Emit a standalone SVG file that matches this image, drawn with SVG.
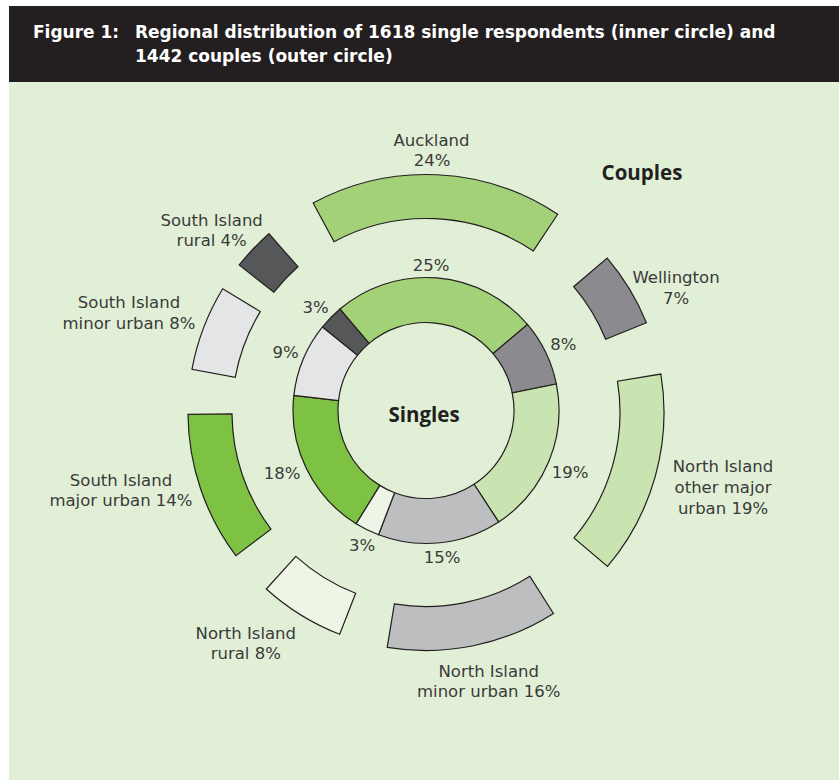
<svg xmlns="http://www.w3.org/2000/svg" width="839" height="780" viewBox="0 0 839 780">
<style>
.seg{stroke:#231F20;stroke-width:1.2;stroke-linejoin:miter}
.lbl{font-family:"DejaVu Sans","Open Sans",sans-serif;font-size:16.5px;fill:#3a3a3a;text-anchor:middle}
.big{font-family:"Open Sans","DejaVu Sans",sans-serif;font-size:20.5px;font-weight:bold;fill:#231F20;text-anchor:middle}
.ttl{font-family:"DejaVu Sans","Liberation Sans",sans-serif;font-size:17px;font-weight:bold;fill:#ffffff}
.c1{fill:#A2D178}.c2{fill:#8B8B8F}.c3{fill:#C9E4B0}.c4{fill:#BDBEC0}
.c5{fill:#EEF5E6}.c6{fill:#7DC242}.c7{fill:#E4E5E7}.c8{fill:#555759}
</style>
<rect x="0" y="0" width="839" height="780" fill="#ffffff"/>
<rect x="9" y="82" width="830" height="698" fill="#E1EFD6"/>
<g id="header">
<rect x="9" y="6" width="830" height="76" fill="#231F20"/>
<text class="ttl" x="33" y="38">Figure 1:</text>
<text class="ttl" x="135" y="38">Regional distribution of 1618 single respondents (inner circle) and</text>
<text class="ttl" x="135" y="62">1442 couples (outer circle)</text>
</g>
<g id="singles-ring">
<path id="s-auckland" class="seg c1" d="M339.98,309.06 A133,133 0 0 1 527.44,324.48 L493.12,353.58 A88,88 0 0 0 369.08,343.38 Z"/>
<path id="s-wellington" class="seg c2" d="M527.44,324.48 A133,133 0 0 1 556.33,383.98 L512.23,392.95 A88,88 0 0 0 493.12,353.58 Z"/>
<path id="s-niom" class="seg c3" d="M556.33,383.98 A133,133 0 0 1 498.63,521.91 L474.06,484.22 A88,88 0 0 0 512.23,392.95 Z"/>
<path id="s-nimu" class="seg c4" d="M498.63,521.91 A133,133 0 0 1 378.56,534.75 L394.61,492.71 A88,88 0 0 0 474.06,484.22 Z"/>
<path id="s-nir" class="seg c5" d="M378.56,534.75 A133,133 0 0 1 356.11,523.66 L379.76,485.37 A88,88 0 0 0 394.61,492.71 Z"/>
<path id="s-simu" class="seg c6" d="M356.11,523.66 A133,133 0 0 1 293.85,395.44 L338.56,400.54 A88,88 0 0 0 379.76,485.37 Z"/>
<path id="s-siminu" class="seg c7" d="M293.85,395.44 A133,133 0 0 1 322.50,326.98 L357.52,355.24 A88,88 0 0 0 338.56,400.54 Z"/>
<path id="s-sir" class="seg c8" d="M322.50,326.98 A133,133 0 0 1 339.98,309.06 L369.08,343.38 A88,88 0 0 0 357.52,355.24 Z"/>
</g>
<g id="couples-ring">
<path id="c-auckland" class="seg c1" d="M313.17,202.94 A238,238 0 0 1 557.71,214.26 L533.36,250.91 A194,194 0 0 0 334.03,241.68 Z"/>
<path id="c-wellington" class="seg c2" d="M607.17,258.15 A238,238 0 0 1 646.42,322.73 L605.67,339.32 A194,194 0 0 0 573.68,286.68 Z"/>
<path id="c-niom" class="seg c3" d="M660.87,374.04 A238,238 0 0 1 607.52,566.44 L573.96,537.98 A194,194 0 0 0 617.45,381.15 Z"/>
<path id="c-nimu" class="seg c4" d="M553.46,613.50 A238,238 0 0 1 387.21,647.32 L394.38,603.91 A194,194 0 0 0 529.89,576.34 Z"/>
<path id="c-nir" class="seg c5" d="M339.70,634.30 A238,238 0 0 1 266.31,588.98 L295.84,556.35 A194,194 0 0 0 355.65,593.30 Z"/>
<path id="c-simu" class="seg c6" d="M235.85,555.63 A238,238 0 0 1 188.01,414.29 L232.01,413.96 A194,194 0 0 0 271.00,529.17 Z"/>
<path id="c-siminu" class="seg c7" d="M191.95,369.29 A238,238 0 0 1 222.72,288.71 L260.30,311.59 A194,194 0 0 0 235.22,377.28 Z"/>
<path id="c-sir" class="seg c8" d="M239.22,264.99 A238,238 0 0 1 268.92,233.70 L297.96,266.75 A194,194 0 0 0 273.75,292.26 Z"/>
</g>
<g id="singles-labels">
<text class="big" x="424" y="421.7">Singles</text>
<text class="lbl" x="431" y="270.7">25%</text>
<text class="lbl" x="563.3" y="350">8%</text>
<text class="lbl" x="570" y="477.7">19%</text>
<text class="lbl" x="442" y="562.7">15%</text>
<text class="lbl" x="362" y="550.7">3%</text>
<text class="lbl" x="282" y="478.7">18%</text>
<text class="lbl" x="285.5" y="357.7">9%</text>
<text class="lbl" x="315.7" y="313.3">3%</text>
</g>
<g id="couples-labels">
<text class="big" x="642" y="180">Couples</text>
<text class="lbl" x="431.5" y="146">Auckland</text>
<text class="lbl" x="432" y="166">24%</text>
<text class="lbl" x="676" y="283.3">Wellington</text>
<text class="lbl" x="676" y="304">7%</text>
<text class="lbl" x="723" y="472.3">North Island</text>
<text class="lbl" x="723" y="493.3">other major</text>
<text class="lbl" x="723" y="514">urban 19%</text>
<text class="lbl" x="488.7" y="677.3">North Island</text>
<text class="lbl" x="488.7" y="697.3">minor urban 16%</text>
<text class="lbl" x="245.8" y="639">North Island</text>
<text class="lbl" x="245.8" y="659.3">rural 8%</text>
<text class="lbl" x="121" y="486">South Island</text>
<text class="lbl" x="121" y="506">major urban 14%</text>
<text class="lbl" x="129" y="308.3">South Island</text>
<text class="lbl" x="129" y="329">minor urban 8%</text>
<text class="lbl" x="211.7" y="226">South Island</text>
<text class="lbl" x="211.7" y="245.7">rural 4%</text>
</g>
</svg>
